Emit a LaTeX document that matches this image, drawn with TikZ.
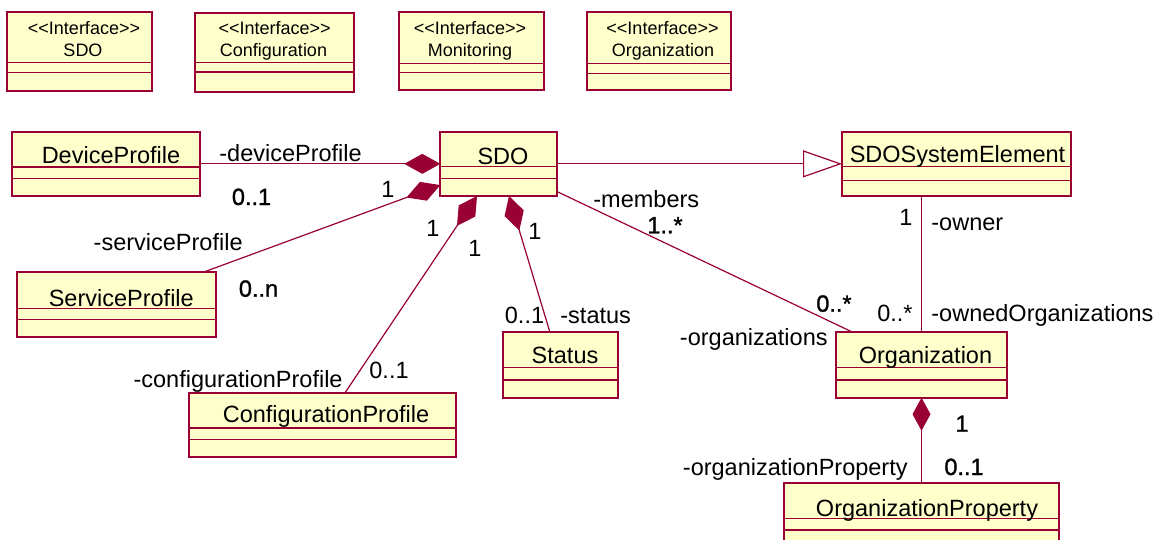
\documentclass[tikz,border=0pt]{standalone}
\usepackage{fontspec}
\setmainfont{Liberation Sans}
\newfontfamily\heavier{Liberation Sans}[FakeBold=1.2]
\usetikzlibrary{arrows.meta,calc,fit}

\definecolor{umlred}{RGB}{153,0,51}
\definecolor{umlfill}{RGB}{255,255,204}

\tikzset{
  classbox/.style={draw=umlred, fill=umlfill, line width=1pt, inner sep=0pt, outer sep=0pt},
  divider/.style={draw=umlred, line width=0.65pt},
  title/.style={font=\fontsize{11.75}{14}\selectfont, inner sep=0pt, anchor=base},
  stereo/.style={font=\fontsize{9}{11}\selectfont, inner sep=0pt, anchor=base},
  role/.style={font=\fontsize{11.75}{14}\selectfont, inner sep=0pt},
  multb/.style={font=\heavier\fontsize{11.75}{14}\selectfont, inner sep=0pt},
  assoc/.style={draw=umlred, line width=0.6pt},
  compose/.style={assoc, {Diamond[length=18pt,width=10pt,fill=umlred]}-},
  composesmall/.style={assoc, {Diamond[length=16.5pt,width=9pt,fill=umlred]}-},
  inherit/.style={assoc, -{Triangle[open,length=19.5pt,width=13.5pt,fill=white]}},
}

% class box: name, x1, y1, x2, y2, first divider, second divider
\newcommand\umlclass[7]{%
  \node[classbox, fit={(#2,#3) (#4,#5)}] (#1) {};
  \draw[divider] (#1.west |- 0,#6) -- (#1.east |- 0,#6);
  \draw[divider] (#1.west |- 0,#7) -- (#1.east |- 0,#7);
}

\begin{document}
\begin{tikzpicture}[x=0.5pt, y=-0.5pt]
\useasboundingbox (0,0) rectangle (1156,540);
\clip (0,0) rectangle (1156,540);

% interfaces
\umlclass{isdo}{7.3}{12.3}{152.3}{90.7}{62.7}{72.7}
\node[stereo] (isdo-s) at (84,35) {<\kern0pt<Interface>\kern0pt>};
\node[stereo] (isdo-n) at (83,57) {SDO};

\umlclass{iconf}{195.3}{12.7}{354}{91.7}{62.7}{72}
\node[stereo] (iconf-s) at (274.7,35) {<\kern0pt<Interface>\kern0pt>};
\node[stereo] (iconf-n) at (273.5,57) {Configuration};

\umlclass{imon}{399}{12.3}{543.7}{90.3}{63.3}{72.7}
\node[stereo] (imon-s) at (470,35) {<\kern0pt<Interface>\kern0pt>};
\node[stereo] (imon-n) at (470,57) {Monitoring};

\umlclass{iorg}{586.7}{12.3}{731.3}{90.3}{63.3}{73.3}
\node[stereo] (iorg-s) at (662.5,35) {<\kern0pt<Interface>\kern0pt>};
\node[stereo] (iorg-n) at (663,57) {Organization};

% classes
\umlclass{dp}{11.7}{131.7}{200}{196}{167}{178.3}
\node[title] (dp-n) at (111,163) {DeviceProfile};

\umlclass{sdo}{440.3}{131.7}{557.3}{196}{166.7}{178.3}
\node[title] (sdo-n) at (503,164) {SDO};

\umlclass{sse}{842}{131.7}{1071.3}{196}{166.7}{180.7}
\node[title] (sse-n) at (957.5,162.7) {SDOSystemElement};

\umlclass{sp}{17.3}{272.3}{216}{337.3}{308.7}{319.3}
\node[title] (sp-n) at (121.3,306) {ServiceProfile};

\umlclass{cp}{189.3}{392.7}{456}{457.3}{428}{439.3}
\node[title] (cp-n) at (326,422) {ConfigurationProfile};

\umlclass{st}{502.7}{331.7}{617.7}{397.7}{367.3}{380}
\node[title] (st-n) at (565,363) {Status};

\umlclass{org}{836}{331.7}{1007}{397.7}{367.3}{380}
\node[title] (org-n) at (925.5,363) {Organization};

\umlclass{op}{784}{482.7}{1059}{548}{518.3}{530}
\node[title] (op-n) at (927,516.7) {OrganizationProperty};

% connectors
\draw[compose] (sdo.west) -- (dp.east);
\draw[compose] ($(sdo.north west)!0.83!(sdo.south west)$) -- ($(sp.north west)!0.935!(sp.north east)$);
\draw[compose] ($(sdo.south west)!0.314!(sdo.south east)$) -- ($(cp.north west)!0.584!(cp.north east)$);
\draw[compose] ($(sdo.south west)!0.587!(sdo.south east)$) -- ($(st.north west)!0.409!(st.north east)$);
\draw[inherit] (sdo.east) -- (sse.west);
\draw[assoc] ($(sdo.north east)!0.933!(sdo.south east)$) -- ($(org.north west)!0.091!(org.north east)$);
\draw[assoc] (org.north) -- (org.north |- sse.south);
\draw[composesmall] (org.south) -- (op.north);

% role names and multiplicities
\node[role, anchor=base west] (r-dp) at (219,161.7) {-deviceProfile};
\node[multb, anchor=base] (m-dp) at (251.5,205) {0..1};
\node[role, anchor=base] (m-sp1) at (388,197.3) {1};
\node[role, anchor=base east] (r-sp) at (243,250) {-serviceProfile};
\node[multb, anchor=base] (m-sp) at (258.5,296.7) {0..n};
\node[role, anchor=base] (m-cp1) at (433,236.7) {1};
\node[role, anchor=base] (m-cp2) at (475,256) {1};
\node[role, anchor=base east] (r-cp) at (343,387) {-configurationProfile};
\node[role, anchor=base] (m-cp) at (389,378.3) {0..1};
\node[role, anchor=base] (m-st1) at (535,239) {1};
\node[role, anchor=base] (m-st) at (524.5,323.3) {0..1};
\node[role, anchor=base west] (r-st) at (560,323.3) {-status};
\node[role, anchor=base west] (r-mem) at (593,207.3) {-members};
\node[multb, anchor=base] (m-mem) at (665,233.3) {1..*};
\node[multb, anchor=base east] (m-orgs) at (852,311.7) {0..*};
\node[role, anchor=base east] (r-orgs) at (828,345) {-organizations};
\node[role, anchor=base] (m-own) at (906,225) {1};
\node[role, anchor=base west] (r-own) at (931,230) {-owner};
\node[role, anchor=base east] (m-owned) at (913,321.7) {0..*};
\node[role, anchor=base west] (r-owned) at (931,321.7) {-ownedOrganizations};
\node[multb, anchor=base] (m-op1) at (962,431.7) {1};
\node[role, anchor=base east] (r-op) at (908,475) {-organizationProperty};
\node[multb, anchor=base] (m-op) at (964,475) {0..1};
\end{tikzpicture}
\end{document}
